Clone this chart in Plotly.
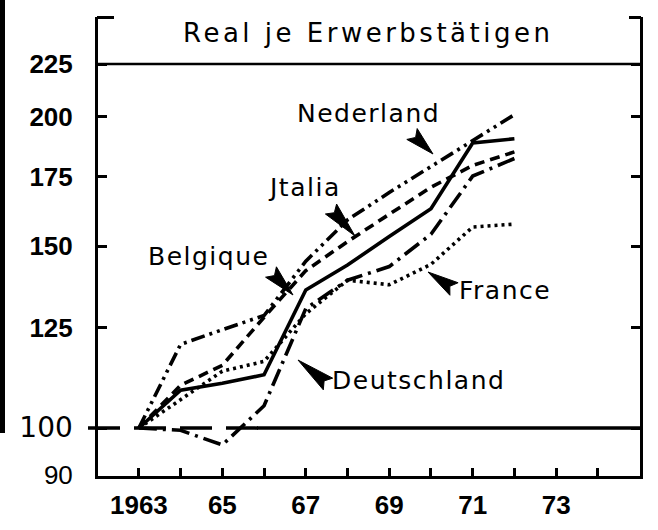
import math
import plotly.graph_objects as go

# ---------------- data ----------------
years = [1963, 1964, 1965, 1966, 1967, 1968, 1969, 1970, 1971, 1972]
nederland = [100, 120.5, 124.5, 128.5, 145, 159, 169, 179, 189.5, 201]
italia = [100, 110, 115, 128, 142, 151.5, 161, 171, 179.5, 185]
belgique = [100, 108.8, 110.5, 112.6, 136, 143.8, 153.2, 163, 188.7, 190.5]
deutschland = [100, 99.5, 96.3, 105.1, 130.5, 139, 143.3, 154, 175.3, 182.3]
france = [100, 106.5, 113.5, 116, 129, 139, 137.6, 144, 156.5, 157.5]

x_tickvals = list(range(1963, 1975))
x_ticklabels = ["1963", "", "65", "", "67", "", "69", "", "71", "", "73", ""]
y_tickvals = [90, 100, 125, 150, 175, 200, 225]
y_ticklabels = ["90", "100", "125", "150", "175", "200", "225"]

title_text = "Real je Erwerbstätigen"
series_names = ["Nederland", "Jtalia", "Belgique", "Deutschland", "France"]

# ---------------- layout geometry ----------------
W, H = 658, 530
L, R, T, B = 98, 640, 17, 476
XRANGE = [1962.02, 1975.01]
YRANGE = [1.9536, 2.3977]  # log10


def px(x):
    return (x - L) / (R - L)


def py(y):
    return (B - y) / (B - T)


def yval_paper(v):
    return (math.log10(v) - YRANGE[0]) / (YRANGE[1] - YRANGE[0])


NUM_FONT = "Liberation Sans, Roboto, Arial, sans-serif"
TXT_FONT = "DejaVu Sans, Verdana, sans-serif"

styles = {
    "Nederland": "14px,5px,3px,5px,3px,5px",
    "Jtalia": "10px,6px",
    "Belgique": "solid",
    "Deutschland": "18px,6px,3px,6px",
    "France": "3px,4px",
}
values = {
    "Nederland": nederland,
    "Jtalia": italia,
    "Belgique": belgique,
    "Deutschland": deutschland,
    "France": france,
}

fig = go.Figure()
for name in series_names:
    fig.add_trace(go.Scatter(
        x=years, y=values[name], mode="lines", name=name,
        line=dict(color="black", width=3.6, dash=styles[name]),
        showlegend=False, hoverinfo="skip",
    ))

# tick labels with per-label styling
y_ticktext = []
for t in y_ticklabels:
    if t == "100":
        y_ticktext.append('<span style="font-family:DejaVu Sans;font-weight:normal;font-size:28px">100</span>')
    elif t == "90":
        y_ticktext.append('<span style="font-weight:normal;font-size:26px">90</span>')
    else:
        y_ticktext.append(t)
x_ticktext = list(x_ticklabels)

shapes = []
# scanner bar at the very left
shapes.append(dict(type="rect", xref="paper", yref="paper",
                   x0=px(0), x1=px(5), y0=py(433), y1=py(0),
                   fillcolor="black", line=dict(width=0), layer="above"))
# top brackets
shapes.append(dict(type="line", xref="paper", yref="paper",
                   x0=px(97), x1=px(114), y0=py(17.5), y1=py(17.5),
                   line=dict(color="black", width=3)))
shapes.append(dict(type="line", xref="paper", yref="paper",
                   x0=px(629), x1=px(641), y0=py(17.5), y1=py(17.5),
                   line=dict(color="black", width=3)))
# 225 line across
shapes.append(dict(type="line", xref="paper", yref="paper",
                   x0=0, x1=1, y0=yval_paper(225), y1=yval_paper(225),
                   line=dict(color="black", width=2.5)))
# 100 reference line: dashed part to 1966, solid afterwards
shapes.append(dict(type="line", xref="paper", yref="paper",
                   x0=px(88), x1=px(259), y0=yval_paper(100), y1=yval_paper(100),
                   line=dict(color="black", width=3.5, dash="32px,14px")))
shapes.append(dict(type="line", xref="paper", yref="paper",
                   x0=px(257), x1=1.0, y0=yval_paper(100), y1=yval_paper(100),
                   line=dict(color="black", width=3.5)))


def wedge(tip, base, half=7.5, notch=5):
    tx, ty = tip
    bx, by = base
    dx, dy = tx - bx, ty - by
    ln = math.hypot(dx, dy)
    ux, uy = dx / ln, dy / ln
    nx, ny = -uy, ux
    p1 = (bx + nx * half, by + ny * half)
    p2 = (bx + ux * notch, by + uy * notch)
    p3 = (bx - nx * half, by - ny * half)
    pts = [(tx, ty), p1, p2, p3]
    d = "M " + " L ".join(f"{px(a):.5f},{py(b):.5f}" for a, b in pts) + " Z"
    return dict(type="path", xref="paper", yref="paper", path=d,
                fillcolor="black", line=dict(color="black", width=1))


arrows = {
    "Nederland": ((433, 154), (412, 134)),
    "Jtalia": ((355, 236), (331, 209)),
    "Belgique": ((293, 295), (271, 272)),
    "France": ((428, 272), (454, 289)),
    "Deutschland": ((298, 360), (328, 384)),
}
for name in series_names:
    tip, base = arrows[name]
    shapes.append(wedge(tip, base))

label_pos = {
    "Nederland": (368, 114),
    "Jtalia": (304, 187),
    "Belgique": (208, 256),
    "France": (505, 290),
    "Deutschland": (418, 380),
}
annotations = []
for name in series_names:
    x, y = label_pos[name]
    annotations.append(dict(
        x=px(x), y=py(y), xref="paper", yref="paper", showarrow=False,
        text=f'<span style="letter-spacing:1.5px">{name}</span>',
        font=dict(family=TXT_FONT, size=25, color="black"),
        xanchor="center", yanchor="middle"))
annotations.append(dict(
    x=px(368), y=py(33), xref="paper", yref="paper", showarrow=False,
    text=f'<span style="letter-spacing:3.5px">{title_text}</span>',
    font=dict(family=TXT_FONT, size=26, color="black"),
    xanchor="center", yanchor="middle"))

fig.update_layout(
    width=W, height=H,
    margin=dict(l=L, r=W - R, t=T, b=H - B, autoexpand=False),
    paper_bgcolor="white", plot_bgcolor="white",
    shapes=shapes, annotations=annotations,
    xaxis=dict(
        range=XRANGE, tickvals=x_tickvals, ticktext=x_ticktext,
        ticks="inside", ticklen=8, tickwidth=2.5, tickcolor="black",
        showline=True, linewidth=3, linecolor="black",
        showgrid=False, zeroline=False,
        tickfont=dict(family=NUM_FONT, size=26, color="black", weight="bold"),
        ticklabelstandoff=4,
    ),
    yaxis=dict(
        type="log", range=YRANGE, tickvals=y_tickvals, ticktext=y_ticktext,
        ticks="inside", ticklen=9, tickwidth=2.5, tickcolor="black",
        showline=True, linewidth=3, linecolor="black", mirror="ticks",
        showgrid=False, zeroline=False,
        tickfont=dict(family=NUM_FONT, size=26, color="black", weight="bold"),
        ticklabelstandoff=17,
    ),
)

fig.write_html("out.html", config={"displayModeBar": False},
               post_script="document.body.style.margin='0px';")
